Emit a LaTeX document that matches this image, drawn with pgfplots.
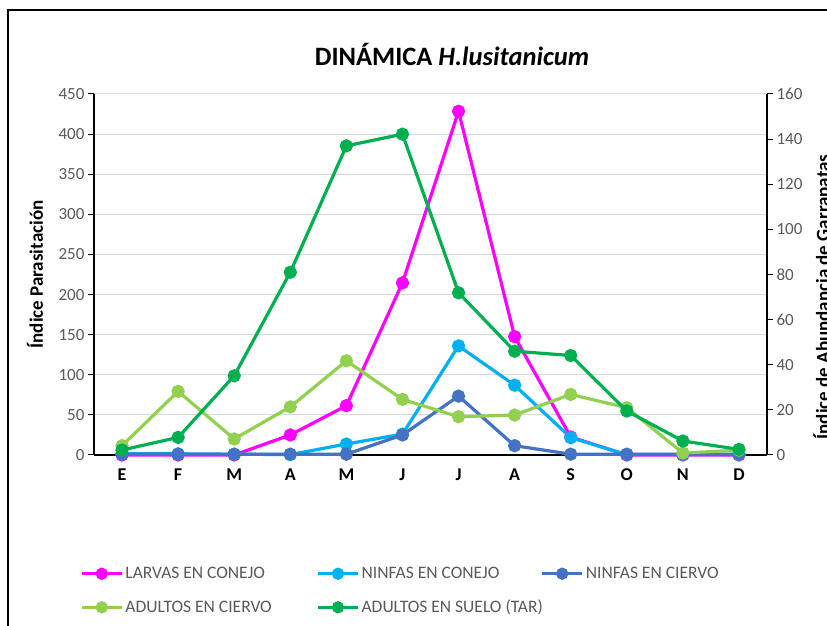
\documentclass[border=0pt]{standalone}
\usepackage{fontspec}
\setmainfont{Carlito}
\usepackage{pgfplots}
\pgfplotsset{compat=1.18}
\definecolor{cLar}{HTML}{FF00FF}
\definecolor{cNco}{HTML}{00B0F0}
\definecolor{cNci}{HTML}{4472C4}
\definecolor{cAci}{HTML}{92D050}
\definecolor{cAsu}{HTML}{00B050}
\definecolor{tickgray}{HTML}{595959}
\definecolor{gridgray}{HTML}{D9D9D9}
\begin{document}
\begin{tikzpicture}[x=1pt,y=1pt]
\path[use as bounding box] (0,0) rectangle (827,626);
\draw[line width=2pt] (8,-2) -- (8,616) -- (830,616);
\pgfplotsset{
  common/.style={
    scale only axis, width=673pt, height=361pt,
    at={(94pt,171pt)}, anchor=south west,
    xmin=-0.5, xmax=11.5, clip=false,
    /pgf/number format/assume math mode=true,
    axis line style={black, line width=1.2pt},
    tick align=outside, major tick length=6pt,
    tick style={black, line width=1pt},
    y tick label style={font=\fontsize{17}{17}\selectfont, text=tickgray},
    every axis plot/.append style={line width=3.2pt, mark=*, mark size=5pt},
    legend image code/.code={\draw[mark repeat=2,mark phase=2,mark size=4.5pt] plot coordinates {(0pt,0pt)(20pt,0pt)(40pt,0pt)};},
  }
}
\begin{axis}[common,
  ymin=0, ymax=450, ytick={0,50,...,450},
  axis y line*=left, axis x line*=bottom,
  xtick={0,...,11}, xticklabels={E,F,M,A,M,J,J,A,S,O,N,D},
  x tick style={draw=none},
  x tick label style={font=\bfseries\fontsize{18}{18}\selectfont, text=black, yshift=-4pt},
  ymajorgrids, grid style={gridgray, line width=1pt},
  ylabel={\bfseries Índice Parasitación},
  ylabel style={font=\fontsize{19}{19}\selectfont, at={(axis description cs:-0.0877,0.5)}, anchor=center},
]
\addplot[color=cLar, mark options={fill=cLar}] coordinates {(0,0)(1,0)(2,0)(3,25)(4,61.5)(5,214.5)(6,428.5)(7,147.5)(8,22.5)(9,0)(10,0)(11,0)};
\addplot[color=cNco, mark options={fill=cNco}] coordinates {(0,1.5)(1,1.5)(2,1)(3,0.5)(4,13.7)(5,26)(6,136)(7,87)(8,21.6)(9,0.5)(10,0.5)(11,0.5)};
\addplot[color=cNci, mark options={fill=cNci}] coordinates {(0,1)(1,1)(2,1)(3,1)(4,1)(5,25)(6,73.4)(7,11.6)(8,1)(9,1)(10,1)(11,1)};
\addplot[color=cAci, mark options={fill=cAci}] coordinates {(0,11.6)(1,79.3)(2,20)(3,60)(4,117.4)(5,69.3)(6,47.7)(7,49.8)(8,75.5)(9,58.9)(10,2.5)(11,6)};
\end{axis}
\begin{axis}[common,
  ymin=0, ymax=160, ytick={0,20,...,160},
  axis y line*=right, axis x line=none,
  legend columns=3,
  legend style={at={(axis description cs:-0.0208,-0.305)}, anchor=north west, draw=none, fill=none,
    inner sep=0pt, font=\fontsize{17.5}{17.5}\selectfont, text=tickgray, row sep=16pt,
    /tikz/every even column/.append style={column sep=0pt}},
  legend cell align=left,
]
\addlegendimage{color=cLar, mark options={fill=cLar}}
\addlegendentry{\makebox[189pt][l]{LARVAS EN CONEJO}}
\addlegendimage{color=cNco, mark options={fill=cNco}}
\addlegendentry{\makebox[177pt][l]{NINFAS EN CONEJO}}
\addlegendimage{color=cNci, mark options={fill=cNci}}
\addlegendentry{NINFAS EN CIERVO}
\addlegendimage{color=cAci, mark options={fill=cAci}}
\addlegendentry{\makebox[189pt][l]{ADULTOS EN CIERVO}}
\addplot[color=cAsu, mark options={fill=cAsu}] coordinates {(0,2.2)(1,7.8)(2,35.1)(3,81)(4,137)(5,142.2)(6,71.9)(7,46)(8,44.1)(9,19.5)(10,6.2)(11,2.5)};
\addlegendentry{\makebox[177pt][l]{ADULTOS EN SUELO (TAR)}}
\end{axis}
\node[font=\bfseries\fontsize{26.5}{26.5}\selectfont] at (452,572) {DINÁMICA \textit{H.lusitanicum}};
\node[rotate=90, font=\bfseries\fontsize{19}{19}\selectfont] at (823,329) {Índice de Abundancia de Garrapatas};
\end{tikzpicture}
\end{document}
